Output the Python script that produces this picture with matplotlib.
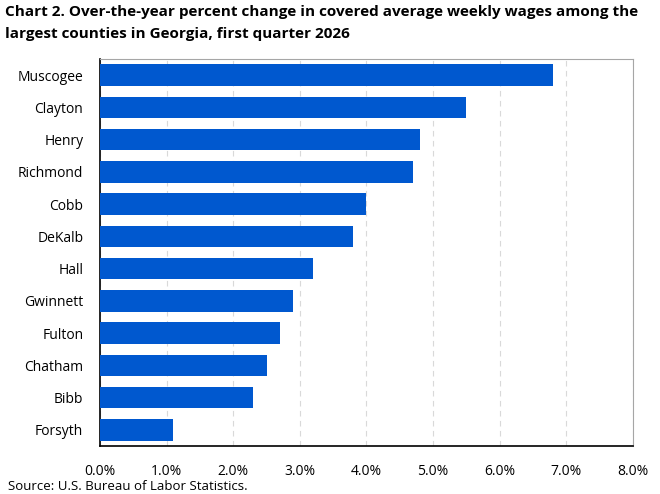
import matplotlib
matplotlib.use("Agg")
import matplotlib.pyplot as plt
from matplotlib.ticker import FuncFormatter

counties = ["Muscogee", "Clayton", "Henry", "Richmond", "Cobb", "DeKalb",
            "Hall", "Gwinnett", "Fulton", "Chatham", "Bibb", "Forsyth"]
pct_change = [6.8, 5.5, 4.8, 4.7, 4.0, 3.8, 3.2, 2.9, 2.7, 2.5, 2.3, 1.1]

plt.rcParams['font.family'] = ['Open Sans', 'DejaVu Sans']

fig = plt.figure(figsize=(6.6, 4.94), dpi=100)
ax = fig.add_axes([0.1515, 0.0972, 0.8076, 0.7834])

y = list(range(len(counties)))
ax.barh(y, pct_change, height=0.66, color="#0058CF", zorder=3)
ax.set_yticks(y)
ax.set_yticklabels(counties, fontsize=10)
ax.set_ylim(len(counties) - 0.5, -0.5)

ax.set_xlim(0, 8)
ax.set_xticks(range(0, 9))
ax.xaxis.set_major_formatter(FuncFormatter(lambda v, p: f"{v:.1f}%"))
ax.tick_params(axis="x", labelsize=10, length=0, pad=13)
ax.tick_params(axis="y", length=0, pad=12)
ax.grid(axis="x", color="#D9D9D9", linestyle=(0, (5, 4)), linewidth=0.8, zorder=0)

for side in ["top", "right"]:
    ax.spines[side].set_color("#A6A6A6")
for side in ["left", "bottom"]:
    ax.spines[side].set_color("black")
    ax.spines[side].set_linewidth(1.2)

fig.text(0.008, 0.99, "Chart 2. Over-the-year percent change in covered average weekly wages among the\nlargest counties in Georgia, first quarter 2026",
         ha="left", va="top", fontsize=11, fontweight="bold", linespacing=1.75)
fig.text(0.012, 0.016, "Source: U.S. Bureau of Labor Statistics.", ha="left", va="center", fontsize=9.5)

fig.savefig("out.png", dpi=100)
